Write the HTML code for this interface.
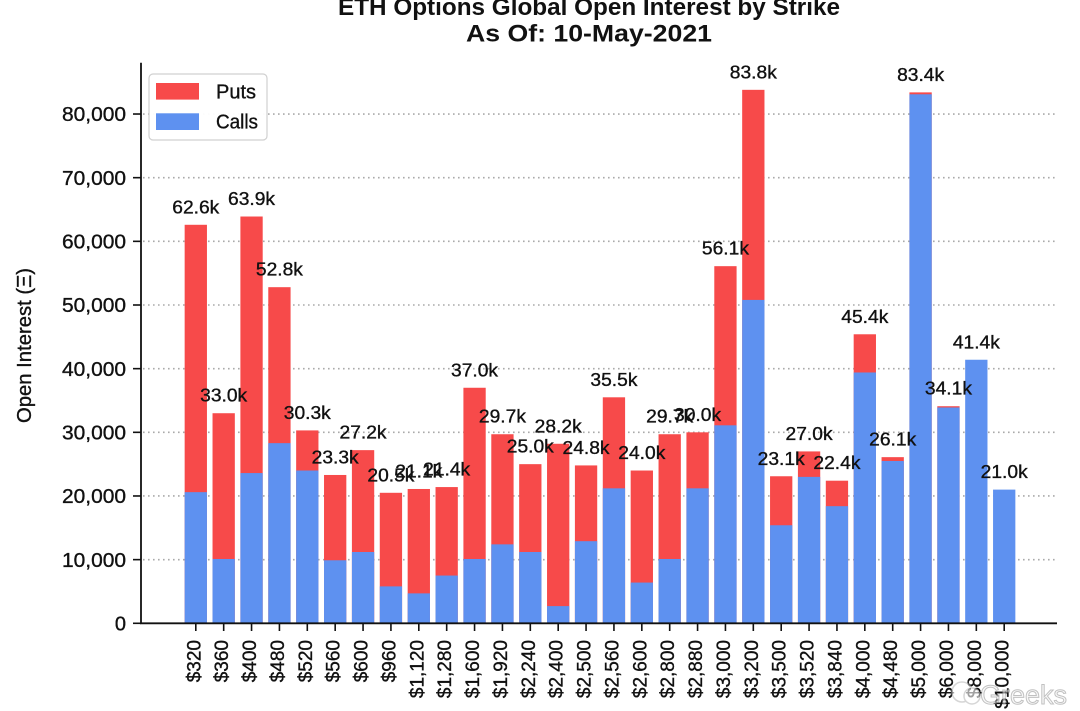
<!DOCTYPE html>
<html>
<head>
<meta charset="utf-8">
<style>
html,body{margin:0;padding:0;background:#fff;}
svg{display:block;}
text{font-family:"Liberation Sans","DejaVu Sans",sans-serif;fill:#111;}
.w{stroke:#111;stroke-width:0.35px;}
</style>
</head>
<body>
<svg width="1080" height="711" viewBox="0 0 1080 711" xmlns="http://www.w3.org/2000/svg">
<rect width="1080" height="711" fill="#fff"/>

<!-- Title -->
<text x="589" y="15" text-anchor="middle" font-size="24" font-weight="bold" textLength="502" lengthAdjust="spacingAndGlyphs">ETH Options Global Open Interest by Strike</text>
<text x="589" y="41.7" text-anchor="middle" font-size="24" font-weight="bold" textLength="246" lengthAdjust="spacingAndGlyphs">As Of: 10-May-2021</text>

<!-- Gridlines -->
<g stroke="#aaaaaa" stroke-width="1.6" stroke-dasharray="1.6 3.4">
<line x1="143" y1="559.64" x2="1055" y2="559.64"/>
<line x1="143" y1="495.98" x2="1055" y2="495.98"/>
<line x1="143" y1="432.32" x2="1055" y2="432.32"/>
<line x1="143" y1="368.66" x2="1055" y2="368.66"/>
<line x1="143" y1="305.0" x2="1055" y2="305.0"/>
<line x1="143" y1="241.34" x2="1055" y2="241.34"/>
<line x1="143" y1="177.68" x2="1055" y2="177.68"/>
<line x1="143" y1="114.02" x2="1055" y2="114.02"/>
</g>

<!-- Puts (red, full total height) -->
<g fill="#F74A4A">
<rect x="184.65" y="224.79" width="22.3" height="398.51"/>
<rect x="212.53" y="413.22" width="22.3" height="210.08"/>
<rect x="240.40" y="216.51" width="22.3" height="406.79"/>
<rect x="268.28" y="287.18" width="22.3" height="336.12"/>
<rect x="296.15" y="430.41" width="22.3" height="192.89"/>
<rect x="324.03" y="474.97" width="22.3" height="148.33"/>
<rect x="351.91" y="450.14" width="22.3" height="173.16"/>
<rect x="379.78" y="492.80" width="22.3" height="130.50"/>
<rect x="407.66" y="488.98" width="22.3" height="134.32"/>
<rect x="435.53" y="487.07" width="22.3" height="136.23"/>
<rect x="463.41" y="387.76" width="22.3" height="235.54"/>
<rect x="491.29" y="434.23" width="22.3" height="189.07"/>
<rect x="519.16" y="464.15" width="22.3" height="159.15"/>
<rect x="547.04" y="443.78" width="22.3" height="179.52"/>
<rect x="574.91" y="465.42" width="22.3" height="157.88"/>
<rect x="602.79" y="397.30" width="22.3" height="226.00"/>
<rect x="630.67" y="470.52" width="22.3" height="152.78"/>
<rect x="658.54" y="434.23" width="22.3" height="189.07"/>
<rect x="686.42" y="432.32" width="22.3" height="190.98"/>
<rect x="714.29" y="266.17" width="22.3" height="357.13"/>
<rect x="742.17" y="89.83" width="22.3" height="533.47"/>
<rect x="770.05" y="476.25" width="22.3" height="147.05"/>
<rect x="797.92" y="451.42" width="22.3" height="171.88"/>
<rect x="825.80" y="480.70" width="22.3" height="142.60"/>
<rect x="853.67" y="334.28" width="22.3" height="289.02"/>
<rect x="881.55" y="457.15" width="22.3" height="166.15"/>
<rect x="909.43" y="92.38" width="22.3" height="530.92"/>
<rect x="937.30" y="406.22" width="22.3" height="217.08"/>
</g>

<!-- Calls (blue) -->
<g fill="#5E91F0">
<rect x="184.65" y="492.16" width="22.3" height="131.14"/>
<rect x="212.53" y="559.00" width="22.3" height="64.30"/>
<rect x="240.40" y="473.06" width="22.3" height="150.24"/>
<rect x="268.28" y="443.14" width="22.3" height="180.16"/>
<rect x="296.15" y="470.52" width="22.3" height="152.78"/>
<rect x="324.03" y="560.28" width="22.3" height="63.02"/>
<rect x="351.91" y="552.00" width="22.3" height="71.30"/>
<rect x="379.78" y="586.38" width="22.3" height="36.92"/>
<rect x="407.66" y="593.38" width="22.3" height="29.92"/>
<rect x="435.53" y="575.55" width="22.3" height="47.75"/>
<rect x="463.41" y="559.00" width="22.3" height="64.30"/>
<rect x="491.29" y="544.36" width="22.3" height="78.94"/>
<rect x="519.16" y="552.00" width="22.3" height="71.30"/>
<rect x="547.04" y="606.11" width="22.3" height="17.19"/>
<rect x="574.91" y="541.18" width="22.3" height="82.12"/>
<rect x="602.79" y="488.34" width="22.3" height="134.96"/>
<rect x="630.67" y="582.56" width="22.3" height="40.74"/>
<rect x="658.54" y="559.00" width="22.3" height="64.30"/>
<rect x="686.42" y="488.34" width="22.3" height="134.96"/>
<rect x="714.29" y="425.32" width="22.3" height="197.98"/>
<rect x="742.17" y="299.91" width="22.3" height="323.39"/>
<rect x="770.05" y="525.26" width="22.3" height="98.04"/>
<rect x="797.92" y="476.88" width="22.3" height="146.42"/>
<rect x="825.80" y="506.17" width="22.3" height="117.13"/>
<rect x="853.67" y="372.48" width="22.3" height="250.82"/>
<rect x="881.55" y="460.97" width="22.3" height="162.33"/>
<rect x="909.43" y="94.29" width="22.3" height="529.01"/>
<rect x="937.30" y="407.49" width="22.3" height="215.81"/>
<rect x="965.18" y="359.75" width="22.3" height="263.55"/>
<rect x="993.05" y="489.61" width="22.3" height="133.69"/>
</g>

<!-- Data labels -->
<g font-size="18" text-anchor="middle" class="w">
<text class="w" x="195.80" y="213.3" textLength="47" lengthAdjust="spacingAndGlyphs">62.6k</text>
<text class="w" x="223.68" y="401.7" textLength="47" lengthAdjust="spacingAndGlyphs">33.0k</text>
<text class="w" x="251.55" y="205.0" textLength="47" lengthAdjust="spacingAndGlyphs">63.9k</text>
<text class="w" x="279.43" y="275.7" textLength="47" lengthAdjust="spacingAndGlyphs">52.8k</text>
<text class="w" x="307.30" y="418.9" textLength="47" lengthAdjust="spacingAndGlyphs">30.3k</text>
<text class="w" x="335.18" y="463.5" textLength="47" lengthAdjust="spacingAndGlyphs">23.3k</text>
<text class="w" x="363.06" y="438.6" textLength="47" lengthAdjust="spacingAndGlyphs">27.2k</text>
<text class="w" x="390.93" y="481.3" textLength="47" lengthAdjust="spacingAndGlyphs">20.5k</text>
<text class="w" x="418.81" y="477.5" textLength="47" lengthAdjust="spacingAndGlyphs">21.1k</text>
<text class="w" x="446.68" y="475.6" textLength="47" lengthAdjust="spacingAndGlyphs">21.4k</text>
<text class="w" x="474.56" y="376.3" textLength="47" lengthAdjust="spacingAndGlyphs">37.0k</text>
<text class="w" x="502.44" y="422.7" textLength="47" lengthAdjust="spacingAndGlyphs">29.7k</text>
<text class="w" x="530.31" y="452.7" textLength="47" lengthAdjust="spacingAndGlyphs">25.0k</text>
<text class="w" x="558.19" y="432.3" textLength="47" lengthAdjust="spacingAndGlyphs">28.2k</text>
<text class="w" x="586.06" y="453.9" textLength="47" lengthAdjust="spacingAndGlyphs">24.8k</text>
<text class="w" x="613.94" y="385.8" textLength="47" lengthAdjust="spacingAndGlyphs">35.5k</text>
<text class="w" x="641.82" y="459.0" textLength="47" lengthAdjust="spacingAndGlyphs">24.0k</text>
<text class="w" x="669.69" y="422.7" textLength="47" lengthAdjust="spacingAndGlyphs">29.7k</text>
<text class="w" x="697.57" y="420.8" textLength="47" lengthAdjust="spacingAndGlyphs">30.0k</text>
<text class="w" x="725.44" y="254.7" textLength="47" lengthAdjust="spacingAndGlyphs">56.1k</text>
<text class="w" x="753.32" y="78.3" textLength="47" lengthAdjust="spacingAndGlyphs">83.8k</text>
<text class="w" x="781.20" y="464.8" textLength="47" lengthAdjust="spacingAndGlyphs">23.1k</text>
<text class="w" x="809.07" y="439.9" textLength="47" lengthAdjust="spacingAndGlyphs">27.0k</text>
<text class="w" x="836.95" y="469.2" textLength="47" lengthAdjust="spacingAndGlyphs">22.4k</text>
<text class="w" x="864.82" y="322.8" textLength="47" lengthAdjust="spacingAndGlyphs">45.4k</text>
<text class="w" x="892.70" y="445.7" textLength="47" lengthAdjust="spacingAndGlyphs">26.1k</text>
<text class="w" x="920.58" y="80.9" textLength="47" lengthAdjust="spacingAndGlyphs">83.4k</text>
<text class="w" x="948.45" y="394.7" textLength="47" lengthAdjust="spacingAndGlyphs">34.1k</text>
<text class="w" x="976.33" y="348.3" textLength="47" lengthAdjust="spacingAndGlyphs">41.4k</text>
<text class="w" x="1004.20" y="478.1" textLength="47" lengthAdjust="spacingAndGlyphs">21.0k</text>
</g>

<!-- Axes spines -->
<line x1="141" y1="62.7" x2="141" y2="624" stroke="#111" stroke-width="1.8"/>
<line x1="140" y1="623.3" x2="1057" y2="623.3" stroke="#111" stroke-width="1.8"/>

<!-- Y ticks -->
<g stroke="#111" stroke-width="1.6">
<line x1="133" y1="623.3" x2="141" y2="623.3"/>
<line x1="133" y1="559.64" x2="141" y2="559.64"/>
<line x1="133" y1="495.98" x2="141" y2="495.98"/>
<line x1="133" y1="432.32" x2="141" y2="432.32"/>
<line x1="133" y1="368.66" x2="141" y2="368.66"/>
<line x1="133" y1="305.0" x2="141" y2="305.0"/>
<line x1="133" y1="241.34" x2="141" y2="241.34"/>
<line x1="133" y1="177.68" x2="141" y2="177.68"/>
<line x1="133" y1="114.02" x2="141" y2="114.02"/>
</g>
<g font-size="20" text-anchor="end">
<text class="w" x="126" y="630.5">0</text>
<text class="w" x="126" y="566.8" textLength="64" lengthAdjust="spacingAndGlyphs">10,000</text>
<text class="w" x="126" y="503.2" textLength="64" lengthAdjust="spacingAndGlyphs">20,000</text>
<text class="w" x="126" y="439.5" textLength="64" lengthAdjust="spacingAndGlyphs">30,000</text>
<text class="w" x="126" y="375.9" textLength="64" lengthAdjust="spacingAndGlyphs">40,000</text>
<text class="w" x="126" y="312.2" textLength="64" lengthAdjust="spacingAndGlyphs">50,000</text>
<text class="w" x="126" y="248.5" textLength="64" lengthAdjust="spacingAndGlyphs">60,000</text>
<text class="w" x="126" y="184.9" textLength="64" lengthAdjust="spacingAndGlyphs">70,000</text>
<text class="w" x="126" y="121.2" textLength="64" lengthAdjust="spacingAndGlyphs">80,000</text>
</g>

<!-- Y label -->
<text class="w" transform="translate(31,423) rotate(-90)" font-size="20" text-anchor="start" textLength="155" lengthAdjust="spacingAndGlyphs">Open Interest (Ξ)</text>

<!-- X ticks -->
<g stroke="#111" stroke-width="1.6">
<line x1="195.80" y1="623" x2="195.80" y2="631"/>
<line x1="223.68" y1="623" x2="223.68" y2="631"/>
<line x1="251.55" y1="623" x2="251.55" y2="631"/>
<line x1="279.43" y1="623" x2="279.43" y2="631"/>
<line x1="307.30" y1="623" x2="307.30" y2="631"/>
<line x1="335.18" y1="623" x2="335.18" y2="631"/>
<line x1="363.06" y1="623" x2="363.06" y2="631"/>
<line x1="390.93" y1="623" x2="390.93" y2="631"/>
<line x1="418.81" y1="623" x2="418.81" y2="631"/>
<line x1="446.68" y1="623" x2="446.68" y2="631"/>
<line x1="474.56" y1="623" x2="474.56" y2="631"/>
<line x1="502.44" y1="623" x2="502.44" y2="631"/>
<line x1="530.31" y1="623" x2="530.31" y2="631"/>
<line x1="558.19" y1="623" x2="558.19" y2="631"/>
<line x1="586.06" y1="623" x2="586.06" y2="631"/>
<line x1="613.94" y1="623" x2="613.94" y2="631"/>
<line x1="641.82" y1="623" x2="641.82" y2="631"/>
<line x1="669.69" y1="623" x2="669.69" y2="631"/>
<line x1="697.57" y1="623" x2="697.57" y2="631"/>
<line x1="725.44" y1="623" x2="725.44" y2="631"/>
<line x1="753.32" y1="623" x2="753.32" y2="631"/>
<line x1="781.20" y1="623" x2="781.20" y2="631"/>
<line x1="809.07" y1="623" x2="809.07" y2="631"/>
<line x1="836.95" y1="623" x2="836.95" y2="631"/>
<line x1="864.82" y1="623" x2="864.82" y2="631"/>
<line x1="892.70" y1="623" x2="892.70" y2="631"/>
<line x1="920.58" y1="623" x2="920.58" y2="631"/>
<line x1="948.45" y1="623" x2="948.45" y2="631"/>
<line x1="976.33" y1="623" x2="976.33" y2="631"/>
<line x1="1004.20" y1="623" x2="1004.20" y2="631"/>
</g>

<!-- X tick labels -->
<g font-size="19" text-anchor="end">
<text class="w" transform="translate(200.30,640) rotate(-90)">$320</text>
<text class="w" transform="translate(228.18,640) rotate(-90)">$360</text>
<text class="w" transform="translate(256.05,640) rotate(-90)">$400</text>
<text class="w" transform="translate(283.93,640) rotate(-90)">$480</text>
<text class="w" transform="translate(311.80,640) rotate(-90)">$520</text>
<text class="w" transform="translate(339.68,640) rotate(-90)">$560</text>
<text class="w" transform="translate(367.56,640) rotate(-90)">$600</text>
<text class="w" transform="translate(395.43,640) rotate(-90)">$960</text>
<text class="w" transform="translate(423.31,640) rotate(-90)">$1,120</text>
<text class="w" transform="translate(451.18,640) rotate(-90)">$1,280</text>
<text class="w" transform="translate(479.06,640) rotate(-90)">$1,600</text>
<text class="w" transform="translate(506.94,640) rotate(-90)">$1,920</text>
<text class="w" transform="translate(534.81,640) rotate(-90)">$2,240</text>
<text class="w" transform="translate(562.69,640) rotate(-90)">$2,400</text>
<text class="w" transform="translate(590.56,640) rotate(-90)">$2,500</text>
<text class="w" transform="translate(618.44,640) rotate(-90)">$2,560</text>
<text class="w" transform="translate(646.32,640) rotate(-90)">$2,600</text>
<text class="w" transform="translate(674.19,640) rotate(-90)">$2,800</text>
<text class="w" transform="translate(702.07,640) rotate(-90)">$2,880</text>
<text class="w" transform="translate(729.94,640) rotate(-90)">$3,000</text>
<text class="w" transform="translate(757.82,640) rotate(-90)">$3,200</text>
<text class="w" transform="translate(785.70,640) rotate(-90)">$3,500</text>
<text class="w" transform="translate(813.57,640) rotate(-90)">$3,520</text>
<text class="w" transform="translate(841.45,640) rotate(-90)">$3,840</text>
<text class="w" transform="translate(869.32,640) rotate(-90)">$4,000</text>
<text class="w" transform="translate(897.20,640) rotate(-90)">$4,480</text>
<text class="w" transform="translate(925.08,640) rotate(-90)">$5,000</text>
<text class="w" transform="translate(952.95,640) rotate(-90)">$6,000</text>
<text class="w" transform="translate(980.83,640) rotate(-90)">$8,000</text>
<text class="w" transform="translate(1008.70,640) rotate(-90)">$10,000</text>
</g>

<!-- Legend -->
<rect x="149" y="74" width="118" height="66" rx="4" ry="4" fill="#fff" fill-opacity="0.95" stroke="#d0d0d0" stroke-width="1.2"/>
<rect x="156" y="83" width="43" height="16.6" fill="#F74A4A"/>
<rect x="156" y="113.3" width="43" height="16.7" fill="#5E91F0"/>
<text class="w" x="216" y="98.3" font-size="20" textLength="40" lengthAdjust="spacingAndGlyphs">Puts</text>
<text class="w" x="216" y="128.3" font-size="20" textLength="42" lengthAdjust="spacingAndGlyphs">Calls</text>

<!-- Watermark -->
<g opacity="0.6">
<circle cx="962" cy="692" r="10" fill="#fff" stroke="#bbb" stroke-width="1.5"/>
<circle cx="972" cy="696" r="8" fill="#fff" stroke="#bbb" stroke-width="1.5"/>
<text x="980" y="704" font-size="27" style="fill:#f4f4f4;stroke:#999;stroke-width:1px">Greeks</text>
</g>
</svg>
</body>
</html>
